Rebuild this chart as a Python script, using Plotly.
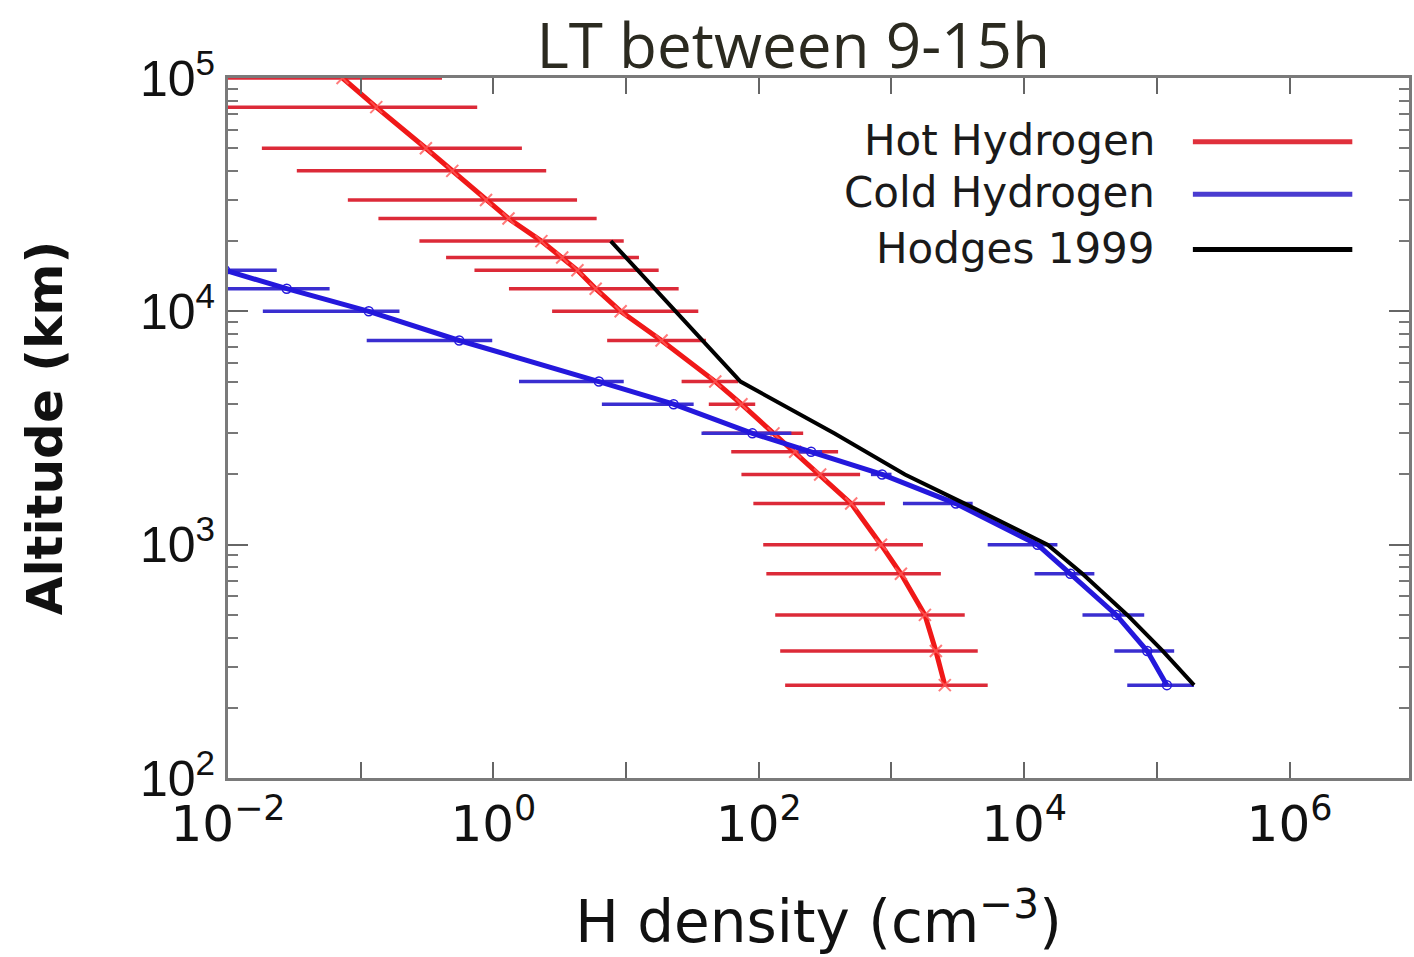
import plotly.graph_objects as go

# Hot hydrogen profile: altitude (km), density (cm^-3) and error range
alt_hot = [100000, 75000, 50000, 40000, 30000, 25000, 20000, 17000, 15000, 12500,
           10000, 7500, 5000, 4000, 3000, 2500, 2000, 1500, 1000, 750, 500, 350, 250]
hot_density = [0.073, 0.131, 0.31, 0.49, 0.88, 1.3, 2.3, 3.3, 4.3, 5.9,
               9.1, 18.5, 47, 74, 129, 188, 290, 497, 834, 1178, 1786, 2160, 2523]
hot_low = [0.003, 0.005, 0.018, 0.033, 0.080, 0.136, 0.277, 0.44, 0.72, 1.31,
           2.77, 7.2, 26.2, 42, 38, 62, 74, 91, 108, 114, 133, 145, 158]
hot_high = [0.41, 0.755, 1.64, 2.5, 4.27, 6.0, 9.6, 12.5, 17.6, 24.9,
            35, 40, 70, 94, 216, 396, 580, 893, 1726, 2355, 3565, 4467, 5310]

# Cold hydrogen profile
alt_cold = [15000, 12500, 10000, 7500, 5000, 4000, 3000, 2500, 2000, 1500,
            1000, 750, 500, 350, 250]
cold_density = [0.0095, 0.0277, 0.115, 0.553, 6.24, 22.8, 89.5, 248, 849, 3055,
                12600, 22300, 49400, 84600, 119000]
cold_low = [0.004, 0.0095, 0.0183, 0.111, 1.56, 6.57, 37, 200, 700, 1220,
            5310, 11970, 27500, 47800, 59800]
cold_high = [0.0233, 0.0583, 0.196, 0.98, 9.6, 32.3, 176, 300, 1000, 4090,
             17800, 33800, 80300, 135000, 190500]

# Hodges (1999) reference profile
alt_hodges = [20000, 5000, 3000, 2000, 1500, 1000, 750, 500, 350, 250]
hodges_density = [7.67, 72.8, 370, 1263, 3565, 15000, 27500, 59800, 111000, 190500]

# Axis ticks
x_tick_vals = [1e-2, 1e-1, 1, 10, 100, 1e3, 1e4, 1e5, 1e6]
x_tick_text = ["10<sup>−2</sup>", "", "10<sup>0</sup>", "", "10<sup>2</sup>", "",
               "10<sup>4</sup>", "", "10<sup>6</sup>"]
y_tick_vals = [100, 1000, 10000, 100000]
y_tick_text = ["10<sup>2</sup>", "10<sup>3</sup>", "10<sup>4</sup>", "10<sup>5</sup>"]
y_minor_vals = [m * 10 ** e for e in (2, 3, 4) for m in range(2, 10)]

# Legend entries
legend_names = ["Hot Hydrogen", "Cold Hydrogen", "Hodges 1999"]
legend_colors = ["#e0303c", "#4a3cd0", "#000000"]


def spread(center, low, high):
    plus = [h - c for c, h in zip(center, high)]
    minus = [c - l for c, l in zip(center, low)]
    return plus, minus


hot_plus, hot_minus = spread(hot_density, hot_low, hot_high)
cold_plus, cold_minus = spread(cold_density, cold_low, cold_high)

RED = "#f01818"
BLUE = "#2418dc"

fig = go.Figure()

fig.add_trace(go.Scatter(
    x=hot_density, y=alt_hot, mode="lines+markers", name=legend_names[0],
    line=dict(color=RED, width=5),
    marker=dict(symbol="x-thin", size=12, line=dict(width=2, color="rgba(255,90,90,0.8)")),
    error_x=dict(type="data", symmetric=False, array=hot_plus, arrayminus=hot_minus,
                 color="#dc2a38", thickness=3.5, width=0),
))

fig.add_trace(go.Scatter(
    x=cold_density, y=alt_cold, mode="lines+markers", name=legend_names[1],
    line=dict(color=BLUE, width=5),
    marker=dict(symbol="circle-open", size=9, line=dict(width=1.5, color="rgba(130,130,255,0.9)")),
    error_x=dict(type="data", symmetric=False, array=cold_plus, arrayminus=cold_minus,
                 color="#3a2ed0", thickness=3.5, width=0),
))

fig.add_trace(go.Scatter(
    x=hodges_density, y=alt_hodges, mode="lines", name=legend_names[2],
    line=dict(color="#000000", width=4),
))

# Legend drawn as text with the line sample on the right
legend_y = [0.911, 0.836, 0.757]
annotations = []
shapes = []
for name, color, yy in zip(legend_names, legend_colors, legend_y):
    annotations.append(dict(
        x=0.787, y=yy, xref="paper", yref="paper", text=name, showarrow=False,
        xanchor="right", yanchor="middle",
        font=dict(family="DejaVu Sans", size=42, color="#1a1a1a"),
    ))
    shapes.append(dict(
        type="line", xref="paper", yref="paper", x0=0.817, x1=0.952, y0=yy - 0.002, y1=yy - 0.002,
        line=dict(color=color, width=5),
    ))

axis_common = dict(
    showline=True, linecolor="#7a7a7a", linewidth=3, mirror="ticks",
    ticks="inside", tickcolor="#666666", tickwidth=2,
    showgrid=False, zeroline=False,
)

fig.update_layout(
    width=1414, height=957,
    margin=dict(l=228, r=2, t=78, b=179),
    paper_bgcolor="white", plot_bgcolor="white",
    showlegend=False,
    title=dict(
        text="LT between 9-15h", x=0.561, xref="container", xanchor="center",
        y=0.952, yref="container", yanchor="middle",
        font=dict(family="Open Sans", size=62, color="#2b2a20"),
    ),
    xaxis=dict(
        type="log", range=[-2, 6.9], tickmode="array",
        tickvals=x_tick_vals, ticktext=x_tick_text, ticklen=16,
        tickfont=dict(family="Liberation Sans Narrow, DejaVu Sans", size=50, color="#111111"),
        title=dict(text="H density (cm<sup>−3</sup>)", standoff=50,
                   font=dict(family="DejaVu Sans", size=58, color="#111111")),
        **axis_common,
    ),
    yaxis=dict(
        type="log", range=[2, 5], tickmode="array",
        tickvals=y_tick_vals, ticktext=y_tick_text, ticklen=20,
        tickfont=dict(family="Liberation Sans", size=50, color="#111111"),
        minor=dict(tickmode="array", tickvals=y_minor_vals, ticks="inside",
                   ticklen=10, tickwidth=2, tickcolor="#777777"),
        title=dict(text="<b>Altitude (km)</b>", standoff=62,
                   font=dict(family="DejaVu Sans", size=50, color="#111111")),
        **axis_common,
    ),
    annotations=annotations,
    shapes=shapes,
)

fig.write_html("out.html")
